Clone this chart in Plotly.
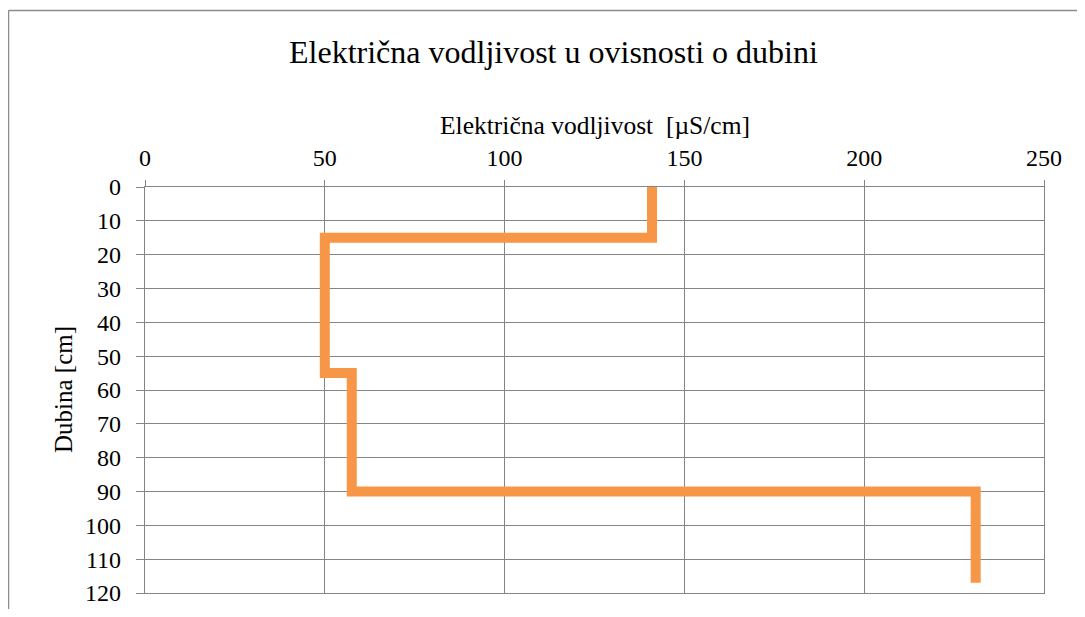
import plotly.graph_objects as go

# Data
conductivity = [141, 141, 50, 50, 57.5, 57.5, 231, 231]  # µS/cm
depth = [0, 15, 15, 55, 55, 90, 90, 117]  # cm
x_ticks = [0, 50, 100, 150, 200, 250]
y_ticks = [0, 10, 20, 30, 40, 50, 60, 70, 80, 90, 100, 110, 120]

# page has an 8px body margin
OFF = 8
W, H = 1085 - 2 * OFF, 617 - 2 * OFF
L, R, T, B = 145, 1044, 187, 593  # plot area in page pixels
pw, ph = R - L, B - T

def px(x):
    return (x - L) / pw

def py(y):
    return 1 - (y - T) / ph

FONT = "Liberation Serif, Times New Roman, serif"
GRID = "#858585"

fig = go.Figure()
fig.add_trace(go.Scatter(
    x=conductivity, y=depth, mode="lines",
    line=dict(color="#F79646", width=10),
    showlegend=False, hoverinfo="skip",
))

fig.update_layout(
    width=W, height=H,
    margin=dict(l=L - OFF, r=(W + OFF) - R, t=T - OFF, b=(H + OFF) - B),
    paper_bgcolor="white", plot_bgcolor="white",
    font=dict(family=FONT, size=24, color="black"),
    xaxis=dict(
        side="top", range=[0, 250], tickvals=x_ticks, automargin=False,
        showgrid=True, gridcolor=GRID, gridwidth=1.2,
        showline=True, linecolor=GRID, linewidth=1.2, mirror=True,
        ticks="outside", ticklen=6, tickcolor=GRID, tickwidth=1.2,
        zeroline=False, tickfont=dict(size=24), ticklabelstandoff=4,
    ),
    yaxis=dict(
        autorange=False, range=[120, 0], tickvals=y_ticks, automargin=False,
        showgrid=True, gridcolor=GRID, gridwidth=1.2,
        showline=True, linecolor=GRID, linewidth=1.2, mirror=True,
        ticks="outside", ticklen=8, tickcolor=GRID, tickwidth=1.2,
        zeroline=False, tickfont=dict(size=24), ticklabelstandoff=10,
    ),
    annotations=[
        dict(text="Električna vodljivost u ovisnosti o dubini", xref="paper", yref="paper",
             x=px(553.5), y=py(52), showarrow=False, font=dict(size=32),
             xanchor="center", yanchor="middle"),
        dict(text="Električna vodljivost  [µS/cm]", xref="paper", yref="paper",
             x=px(595), y=py(125), showarrow=False, font=dict(size=25.5),
             xanchor="center", yanchor="middle"),
        dict(text="Dubina [cm]", xref="paper", yref="paper",
             x=px(63), y=py(390), showarrow=False, font=dict(size=25),
             textangle=-90, xanchor="center", yanchor="middle"),
    ],
    shapes=[
        dict(type="line", xref="paper", yref="paper",
             x0=px(8.5), y0=py(640), x1=px(8.5), y1=py(10.5),
             line=dict(color="#8c8c8c", width=1.5)),
        dict(type="line", xref="paper", yref="paper",
             x0=px(8.5), y0=py(10.5), x1=px(1100), y1=py(10.5),
             line=dict(color="#8c8c8c", width=1.5)),
    ],
)

fig.write_html("out.html")
